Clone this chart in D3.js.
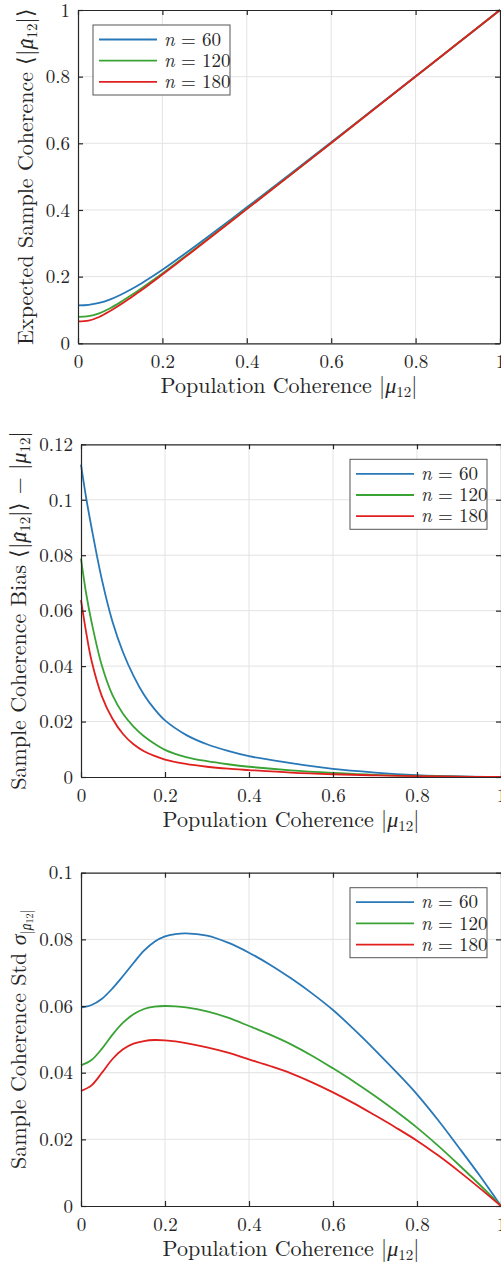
<!DOCTYPE html>
<html>
<head>
<meta charset="utf-8">
<script src="https://cdn.jsdelivr.net/npm/d3@7"></script>
<style>
  body { margin: 0; background: #fff; }
</style>
</head>
<body>
<svg id="chart" width="501" height="1268"></svg>
<script>
// series labels and colours
var seriesN = [60, 120, 180];
var colors = ['#2878b8', '#3aa336', '#e0201e'];

// panel 1: expected sample coherence
var xExp = [0, 0.025, 0.05, 0.075, 0.1, 0.125, 0.15, 0.175, 0.2, 0.25, 0.3, 0.4, 0.5, 0.6, 0.7, 0.8, 0.9, 1];
var exp60  = [0.1135, 0.1155, 0.121, 0.131, 0.145, 0.1615, 0.1797, 0.1995, 0.2204, 0.2655, 0.312, 0.408, 0.505, 0.603, 0.702, 0.801, 0.900, 1];
var exp120 = [0.0795, 0.0815, 0.090, 0.1045, 0.1228, 0.1432, 0.1647, 0.187, 0.2098, 0.2572, 0.3057, 0.404, 0.502, 0.601, 0.701, 0.800, 0.900, 1];
var exp180 = [0.0655, 0.068, 0.079, 0.096, 0.1155, 0.137, 0.159, 0.1825, 0.2063, 0.2547, 0.3037, 0.4025, 0.5016, 0.601, 0.7006, 0.8003, 0.9001, 1];

// panel 2: bias
var xBias = [0, 0.0125, 0.025, 0.05, 0.075, 0.1, 0.125, 0.15, 0.175, 0.2, 0.25, 0.3, 0.35, 0.4, 0.5, 0.6, 0.7, 0.8, 0.9, 1];
var bias60  = [0.1127, 0.1005, 0.090, 0.071, 0.056, 0.045, 0.0365, 0.0297, 0.0245, 0.0204, 0.0152, 0.0118, 0.0094, 0.0075, 0.0050, 0.0029, 0.0016, 0.0007, 0.0002, 0];
var bias120 = [0.0788, 0.066, 0.056, 0.040, 0.0295, 0.0228, 0.0182, 0.0147, 0.0120, 0.0098, 0.0072, 0.0057, 0.0046, 0.0037, 0.0024, 0.0015, 0.0008, 0.0004, 0.0001, 0];
var bias180 = [0.0638, 0.052, 0.042, 0.029, 0.021, 0.0155, 0.0118, 0.0093, 0.0076, 0.0063, 0.0047, 0.0037, 0.0030, 0.0025, 0.0016, 0.0010, 0.0006, 0.0003, 0.0001, 0];

// panel 3: standard deviation
var xStd = [0, 0.025, 0.05, 0.075, 0.1, 0.125, 0.15, 0.175, 0.2, 0.225, 0.25, 0.3, 0.35, 0.4, 0.45, 0.5, 0.55, 0.6, 0.65, 0.7, 0.75, 0.8, 0.85, 0.9, 0.95, 1];
var std60  = [0.0595, 0.0603, 0.0622, 0.0653, 0.0690, 0.0729, 0.0766, 0.0793, 0.0809, 0.0816, 0.0818, 0.0811, 0.0790, 0.0760, 0.0724, 0.0683, 0.0638, 0.0588, 0.0530, 0.0468, 0.0403, 0.0335, 0.0258, 0.0175, 0.0090, 0];
var std120 = [0.0422, 0.0438, 0.0472, 0.0514, 0.0550, 0.0575, 0.0591, 0.0598, 0.0600, 0.0599, 0.0596, 0.0584, 0.0565, 0.0540, 0.0514, 0.0485, 0.0451, 0.0413, 0.0373, 0.0330, 0.0284, 0.0235, 0.0181, 0.0123, 0.0063, 0];
var std180 = [0.0345, 0.0362, 0.0400, 0.0441, 0.0470, 0.0487, 0.0495, 0.0498, 0.0497, 0.0494, 0.0489, 0.0476, 0.0460, 0.0440, 0.0420, 0.0398, 0.0371, 0.0341, 0.0308, 0.0272, 0.0235, 0.0196, 0.0152, 0.0104, 0.0053, 0];

var xTicks = [0, 0.2, 0.4, 0.6, 0.8, 1];
var xTickLabels = ['0', '0.2', '0.4', '0.6', '0.8', '1'];

var FONT = 'Latin Modern Roman';
var MATH = 'Liberation Serif';
var INK = '#262626';
var svg = d3.select('#chart');

function drawPanel(p){
    var x = d3.scaleLinear().domain([0, 1]).range([p.left, p.right]);
    var y = d3.scaleLinear().domain([0, p.ymax]).range([p.bottom, p.top]);
    var g = svg.append('g');

    // grid
    g.selectAll('.gx').data(xTicks.slice(1, -1)).enter().append('line')
        .attr('x1', function(d){ return x(d); }).attr('x2', function(d){ return x(d); })
        .attr('y1', p.top).attr('y2', p.bottom)
        .attr('stroke', '#e3e3e3').attr('stroke-width', 1);
    g.selectAll('.gy').data(p.yTicks.slice(1, -1)).enter().append('line')
        .attr('x1', p.left).attr('x2', p.right)
        .attr('y1', function(d){ return y(d); }).attr('y2', function(d){ return y(d); })
        .attr('stroke', '#e3e3e3').attr('stroke-width', 1);

    // curves
    var line = d3.line()
        .x(function(d){ return x(d[0]); })
        .y(function(d){ return y(d[1]); })
        .curve(d3.curveCatmullRom.alpha(0.5));
    p.series.forEach(function(s, i){
        var pts = p.xs.map(function(v, j){ return [v, s[j]]; });
        g.append('path').datum(pts)
            .attr('d', line)
            .attr('fill', 'none')
            .attr('stroke', colors[i])
            .attr('stroke-width', 1.8);
    });

    // axes (ticks pointing inward)
    g.append('g').attr('transform', 'translate(0,' + p.bottom + ')')
        .call(d3.axisBottom(x).tickValues(xTicks).tickSizeInner(-5).tickSizeOuter(0)
            .tickFormat(function(d, i){ return xTickLabels[i]; }))
        .call(styleAxis)
        .selectAll('text').attr('dy', 0).attr('y', 25);
    g.append('g').attr('transform', 'translate(0,' + p.top + ')')
        .call(d3.axisTop(x).tickValues(xTicks).tickSizeInner(-5).tickSizeOuter(0).tickFormat(''))
        .call(styleAxis);
    g.append('g').attr('transform', 'translate(' + p.left + ',0)')
        .call(d3.axisLeft(y).tickValues(p.yTicks).tickSizeInner(-5).tickSizeOuter(0)
            .tickFormat(function(d, i){ return p.yTickLabels[i]; }))
        .call(styleAxis)
        .selectAll('text').attr('x', -8).attr('dy', '0.33em');
    g.append('g').attr('transform', 'translate(' + p.right + ',0)')
        .call(d3.axisRight(y).tickValues(p.yTicks).tickSizeInner(-5).tickSizeOuter(0).tickFormat(''))
        .call(styleAxis);

    // x label
    var xl = g.append('text')
        .attr('x', (p.left + p.right) / 2)
        .attr('y', p.bottom + 50)
        .attr('text-anchor', 'middle')
        .attr('font-family', FONT).attr('fill', INK)
        .style('font-size', '22px');
    xl.append('tspan').text('Population Coherence |');
    mathMu(xl, 22);
    xl.append('tspan').attr('dy', 4).style('font-size', '15px').text('12');
    xl.append('tspan').attr('dy', -4).text('|');

    // y label
    var yl = g.append('text')
        .attr('transform', 'translate(' + p.ylabelX + ',' + (p.top + p.bottom) / 2 + ') rotate(-90)')
        .attr('text-anchor', 'middle')
        .attr('font-family', FONT).attr('fill', INK)
        .style('font-size', '22px');
    p.ylabel(yl);

    // legend
    var lg = g.append('g').attr('transform', 'translate(' + p.legX + ',' + p.legY + ')');
    lg.append('rect').attr('width', 137).attr('height', 70)
        .attr('fill', '#fff').attr('stroke', '#555').attr('stroke-width', 1);
    seriesN.forEach(function(n, i){
        var yy = 14.5 + i * 21.2;
        lg.append('line').attr('x1', 6).attr('x2', 64).attr('y1', yy).attr('y2', yy)
            .attr('stroke', colors[i]).attr('stroke-width', 1.8);
        var t = lg.append('text').attr('x', 71).attr('y', yy).attr('dy', '0.33em')
            .attr('font-family', FONT).attr('fill', INK)
            .style('font-size', '19px');
        t.append('tspan').style('font-style', 'italic').text('n');
        t.append('tspan').text(' = ' + n);
    });
}

function styleAxis(sel){
    sel.attr('font-family', FONT);
    sel.select('.domain').attr('stroke', INK).attr('stroke-width', 1.2);
    sel.selectAll('.tick line').attr('stroke', INK).attr('stroke-width', 1.2);
    sel.selectAll('text').attr('font-family', FONT).style('font-size', '19px').attr('fill', INK);
}

function mathMu(t, size){
    return t.append('tspan').attr('font-family', MATH).style('font-style', 'italic')
        .style('font-size', size + 'px').text('μ');
}

// mu with a hat, the hat glyph centred over the mu
function hatMu(t, size, subSize, subDy){
    var mu = mathMu(t, size);
    var hat = t.append('tspan').attr('font-family', MATH).style('font-size', size + 'px').text('ˆ');
    var wm = mu.node().getComputedTextLength();
    var wh = hat.node().getComputedTextLength();
    hat.attr('dx', -(wm + wh) / 2 + 0.08 * size).attr('dy', 0.12 * size);
    t.append('tspan').attr('dx', (wm - wh) / 2 - 0.08 * size).attr('dy', subDy - 0.12 * size)
        .style('font-size', subSize + 'px').text('12');
}

function muHat(t){
    t.append('tspan').text('⟨|');
    hatMu(t, 22, 15, 4);
    t.append('tspan').attr('dy', -4).text('|⟩');
}

drawPanel({
    left: 78, right: 500, top: 10, bottom: 343.3, ymax: 1,
    yTicks: [0, 0.2, 0.4, 0.6, 0.8, 1],
    yTickLabels: ['0', '0.2', '0.4', '0.6', '0.8', '1'],
    xs: xExp, series: [exp60, exp120, exp180],
    ylabelX: 33,
    ylabel: function(t){
        t.append('tspan').text('Expected Sample Coherence ');
        muHat(t);
    },
    legX: 93, legY: 25
});

drawPanel({
    left: 81, right: 501, top: 444.3, bottom: 777, ymax: 0.12,
    yTicks: [0, 0.02, 0.04, 0.06, 0.08, 0.1, 0.12],
    yTickLabels: ['0', '0.02', '0.04', '0.06', '0.08', '0.1', '0.12'],
    xs: xBias, series: [bias60, bias120, bias180],
    ylabelX: 26,
    ylabel: function(t){
        t.append('tspan').text('Sample Coherence Bias ');
        muHat(t);
        t.append('tspan').text(' − |');
        mathMu(t, 22);
        t.append('tspan').attr('dy', 4).style('font-size', '15px').text('12');
        t.append('tspan').attr('dy', -4).text('|');
    },
    legX: 350, legY: 459.3
});

drawPanel({
    left: 81, right: 501, top: 872.7, bottom: 1206, ymax: 0.1,
    yTicks: [0, 0.02, 0.04, 0.06, 0.08, 0.1],
    yTickLabels: ['0', '0.02', '0.04', '0.06', '0.08', '0.1'],
    xs: xStd, series: [std60, std120, std180],
    ylabelX: 26,
    ylabel: function(t){
        t.append('tspan').text('Sample Coherence Std ');
        t.append('tspan').attr('font-family', MATH).style('font-style', 'italic').text('σ');
        t.append('tspan').attr('dy', 5).style('font-size', '14px').text('|');
        hatMu(t, 14, 10, 2);
        t.append('tspan').attr('dy', -2).style('font-size', '14px').text('|');
    },
    legX: 350, legY: 887.7
});
</script>
</body>
</html>
